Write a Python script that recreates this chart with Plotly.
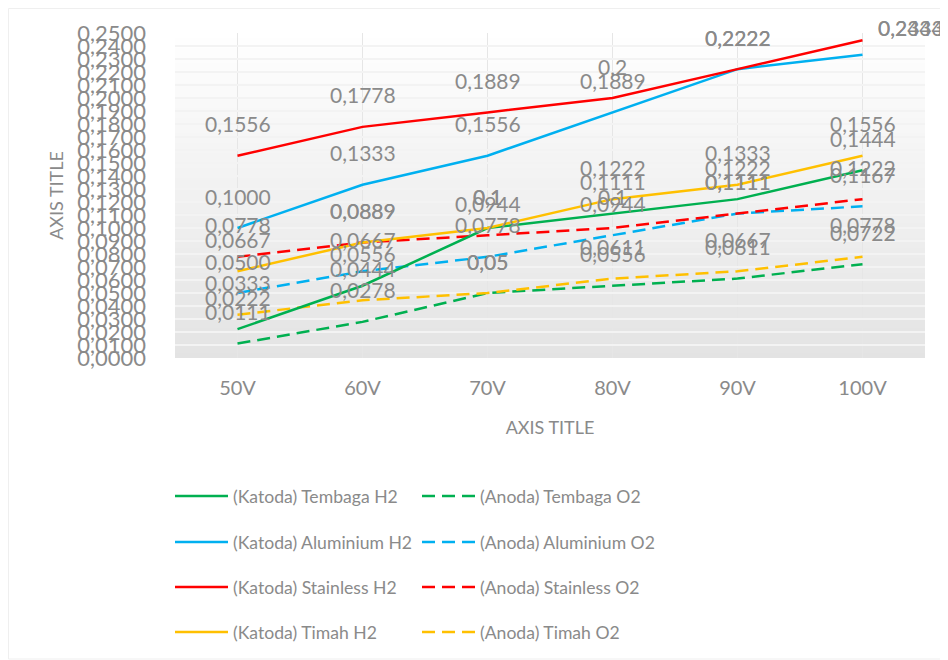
import plotly.graph_objects as go

categories = ["50V", "60V", "70V", "80V", "90V", "100V"]

tembaga_h2 = [0.0222, 0.0556, 0.1000, 0.1111, 0.1222, 0.1444]
aluminium_h2 = [0.1000, 0.1333, 0.1556, 0.1889, 0.2222, 0.2333]
stainless_h2 = [0.1556, 0.1778, 0.1889, 0.2000, 0.2222, 0.2444]
timah_h2 = [0.0667, 0.0889, 0.1000, 0.1222, 0.1333, 0.1556]
tembaga_o2 = [0.0111, 0.0278, 0.0500, 0.0556, 0.0611, 0.0722]
aluminium_o2 = [0.0500, 0.0667, 0.0778, 0.0944, 0.1111, 0.1167]
stainless_o2 = [0.0778, 0.0889, 0.0944, 0.1000, 0.1111, 0.1222]
timah_o2 = [0.0333, 0.0444, 0.0500, 0.0611, 0.0667, 0.0778]

tembaga_h2_labels = ["0,0222", "0,0556", "0,1", "0,1111", "0,1222", "0,1444"]
aluminium_h2_labels = ["0,1000", "0,1333", "0,1556", "0,1889", "0,2222", "0,2333"]
stainless_h2_labels = ["0,1556", "0,1778", "0,1889", "0,2", "0,2222", "0,2444"]
timah_h2_labels = ["0,0667", "0,0889", "0,1", "0,1222", "0,1333", "0,1556"]
tembaga_o2_labels = ["0,0111", "0,0278", "0,05", "0,0556", "0,0611", "0,0722"]
aluminium_o2_labels = ["0,0500", "0,0667", "0,0778", "0,0944", "0,1111", "0,1167"]
stainless_o2_labels = ["0,0778", "0,0889", "0,0944", "0,1", "0,1111", "0,1222"]
timah_o2_labels = ["0,0333", "0,0444", "0,05", "0,0611", "0,0667", "0,0778"]

GREEN, BLUE, RED, YELLOW = "#00B050", "#00B0F0", "#FF0000", "#FFC000"
GRAY = "#8a8a8a"
FONT = "Lato"

# name, values, labels, color, dashed, legend id
series = [
    ("(Katoda) Tembaga H2", tembaga_h2, tembaga_h2_labels, GREEN, False, "legend"),
    ("(Anoda) Tembaga O2", tembaga_o2, tembaga_o2_labels, GREEN, True, "legend2"),
    ("(Katoda) Aluminium H2", aluminium_h2, aluminium_h2_labels, BLUE, False, "legend3"),
    ("(Anoda) Aluminium O2", aluminium_o2, aluminium_o2_labels, BLUE, True, "legend4"),
    ("(Katoda) Stainless H2", stainless_h2, stainless_h2_labels, RED, False, "legend5"),
    ("(Anoda) Stainless O2", stainless_o2, stainless_o2_labels, RED, True, "legend6"),
    ("(Katoda) Timah H2", timah_h2, timah_h2_labels, YELLOW, False, "legend7"),
    ("(Anoda) Timah O2", timah_o2, timah_o2_labels, YELLOW, True, "legend8"),
]

# page body has an 8px margin, so the figure is sized to fit inside 948x660
W, H = 940, 652

fig = go.Figure()

# draw order: dashed first, then solid
draw_order = [1, 3, 5, 7, 0, 2, 4, 6]
for i in draw_order:
    name, vals, labs, col, dashed, lg = series[i]
    fig.add_trace(go.Scatter(
        x=categories, y=vals, mode="lines", name=name,
        line=dict(color=col, width=2.5, dash="13px,7px" if dashed else "solid"),
        legend=lg, hoverinfo="skip",
    ))

# data labels
annotations = []
for name, vals, labs, col, dashed, lg in series:
    for j, (c, v, t) in enumerate(zip(categories, vals, labs)):
        xs, ys = 0, 32
        if j == len(categories) - 1 and v > 0.2:
            # labels pushed to the right at the top of the chart
            xs = 48
            ys = 13 if name.startswith("(Katoda) Stainless") else 27
        annotations.append(dict(
            x=c, y=v, xref="x", yref="y", text=t, showarrow=False,
            xshift=xs, yshift=ys, font=dict(family=FONT, size=21, color=GRAY),
        ))

# gradient background bands for plot area
shapes = []
N = 65
for k in range(N):
    f = (k + 0.5) / N  # 0 bottom -> 1 top
    g = int(round(0xE3 + (0xFF - 0xE3) * f))
    shapes.append(dict(
        type="rect", xref="x domain", yref="y domain",
        x0=0, x1=1, y0=k / N, y1=(k + 1) / N,
        fillcolor=f"rgb({g},{g},{g})", line=dict(width=0), layer="below",
    ))

L, R, T, B = 167, 23, 25, 302
pw, ph = W - L - R, H - T - B
# faint chart border along the figure edge
shapes.append(dict(type="rect", xref="paper", yref="paper",
                   x0=(0.5 - L) / pw, x1=(W - 1 - L) / pw,
                   y0=(ph + T - (H - 1)) / ph, y1=(ph + T - 0.5) / ph,
                   line=dict(color="#efefef", width=1), fillcolor="rgba(0,0,0,0)",
                   layer="below"))

fig.update_layout(
    width=W, height=H,
    margin=dict(l=L, r=R, t=T, b=B, autoexpand=False),
    paper_bgcolor="white", plot_bgcolor="white",
    separators=",.",
    font=dict(family=FONT, color=GRAY),
    annotations=annotations, shapes=shapes,
    showlegend=True,
)

fig.update_xaxes(
    type="category", categoryorder="array", categoryarray=categories,
    range=[-0.5, 5.5], showgrid=True, gridcolor="#e6e6e6", gridwidth=1,
    zeroline=False, showline=False, ticks="", automargin=False,
    tickfont=dict(family=FONT, size=20, color=GRAY), ticklabelstandoff=16,
    title=dict(text="AXIS TITLE", font=dict(family=FONT, size=18, color=GRAY), standoff=23),
)
fig.update_yaxes(
    range=[0, 0.25], dtick=0.01, tickformat=".4f",
    showgrid=True, gridcolor="#f3f3f3", gridwidth=1.5,
    zeroline=False, showline=False, ticks="", automargin=False,
    tickfont=dict(family=FONT, size=22, color=GRAY), ticklabelstandoff=28,
    title=dict(text="AXIS TITLE", font=dict(family=FONT, size=18, color=GRAY), standoff=8),
)

row_y = [488, 534, 579, 624]
col_x = [162, 409]
for idx, (name, vals, labs, col, dashed, lg) in enumerate(series):
    r, cidx = divmod(idx, 2)
    fig.update_layout({lg: dict(
        xref="container", yref="container",
        x=col_x[cidx] / W, y=1 - row_y[r] / H,
        xanchor="left", yanchor="middle",
        orientation="h", itemwidth=53,
        font=dict(family=FONT, size=17.6, color=GRAY),
        bgcolor="rgba(0,0,0,0)", borderwidth=0,
    )})

fig.write_html("out.html")
